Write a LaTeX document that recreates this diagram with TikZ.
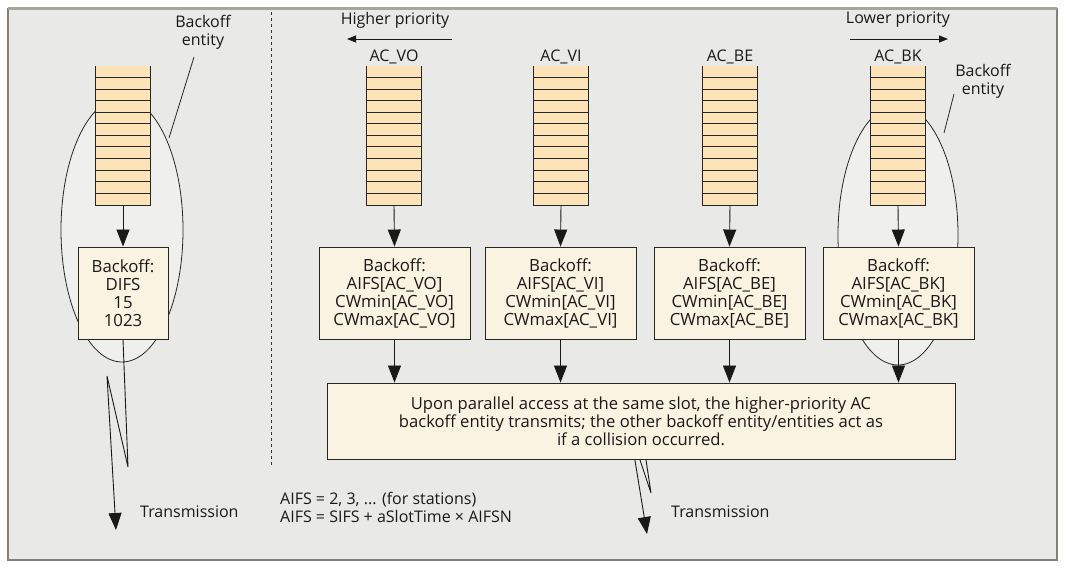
\documentclass[tikz,border=0pt]{standalone}
\usepackage{fontspec}
\setmainfont{Open Sans}
\usetikzlibrary{arrows.meta,shapes.geometric}
\definecolor{bg}{HTML}{E9EAE7}
\definecolor{framec}{HTML}{857F78}
\definecolor{topc}{HTML}{A8A49E}
\definecolor{queuefill}{HTML}{FCE3B8}
\definecolor{boxfill}{HTML}{FBF3E1}
\definecolor{ellfill}{HTML}{EFF0ED}
\newcommand\drawqueue[2]{%
  \node[queue] (#1) at (#2,135.5) {};
  \draw[qline] (#1.north west) -- (#1.south west) -- (#1.south east) -- (#1.north east);
  \foreach \k in {1,...,11}
    \draw[qline] ([yshift=-\k*11.583pt]#1.north west) -- ([yshift=-\k*11.583pt]#1.north east);
}
\begin{document}
\begin{tikzpicture}[x=1pt,y=-1pt,
  every node/.style={font=\fontsize{16}{18}\selectfont, inner sep=0pt, text=black!90},
  queue/.style={fill=queuefill, minimum width=54pt, minimum height=139pt},
  qline/.style={line width=0.9pt, black!85},
  bobox/.style={draw=black!85, fill=boxfill, minimum width=151pt, minimum height=92pt, align=center, line width=0.9pt, font=\fontsize{16.8}{18}\selectfont},
  entity/.style={ellipse, draw=black!85, fill=ellfill, line width=0.8pt, inner sep=0pt},
  conn/.style={-{Triangle[length=17pt,width=13pt]}, line width=0.9pt, black!90},
  prio/.style={-{Triangle[length=9pt,width=7pt]}, line width=0.9pt, black!90},
  thin/.style={line width=0.8pt, black!85},
]
\useasboundingbox (0,0) rectangle (1066,569);
\fill[white] (0,0) rectangle (1066,569);
\draw[fill=bg, draw=framec, line width=1.2pt] (8,9) rectangle (1057,560);
\draw[topc, line width=3pt] (8,9) -- (1057,9);

% divider
\draw[black!80, line width=0.9pt, dash pattern=on 3pt off 3pt] (271,12) -- (271,465);

% ---------- left (legacy) station ----------
\node[entity, minimum width=122pt, minimum height=264pt] (eleft) at (122,230) {};
\drawqueue{qleft}{123}
\node[bobox, minimum width=90pt] (bleft) at (123,293) {Backoff:\\DIFS\\15\\1023};
\draw[conn] (qleft.south) -- (bleft.north);
\node[align=center] (entl) at (203,32) {Backoff\\entity};
\coordinate (ll1) at (169,138);
\coordinate (ll2) at (194,57);
\draw[thin] (ll1) -- (ll2);
\coordinate (zl1) at (128,467);
\coordinate (zl2) at (107,376);
\coordinate (tl) at (116,530);
\draw[conn] (bleft.south) -- (zl1) -- (zl2) -- (tl);
\node[anchor=west] (trl) at (140,512) {Transmission};

% ---------- right (EDCA) station ----------
\node (hp) at (395,20) {Higher priority};
\coordinate (hp1) at (452,39);
\coordinate (hp2) at (347,39);
\draw[prio] (hp1) -- (hp2);
\node (lp) at (898,20) {Lower priority};
\coordinate (lp1) at (850,39);
\coordinate (lp2) at (948,39);
\draw[prio] (lp1) -- (lp2);

\node[entity, minimum width=120pt, minimum height=260pt] (eright) at (898,235) {};

\drawqueue{qvo}{394}
\drawqueue{qvi}{561}
\drawqueue{qbe}{730}
\drawqueue{qbk}{898}

\node (lvo) at (394,57) {AC\_VO};
\node (lvi) at (561,57) {AC\_VI};
\node (lbe) at (730,57) {AC\_BE};
\node (lbk) at (898,57) {AC\_BK};

\node[bobox] (bvo) at (394.5,293) {Backoff:\\AIFS[AC\_VO]\\CWmin[AC\_VO]\\CWmax[AC\_VO]};
\node[bobox] (bvi) at (560.5,293) {Backoff:\\AIFS[AC\_VI]\\CWmin[AC\_VI]\\CWmax[AC\_VI]};
\node[bobox] (bbe) at (729.5,293) {Backoff:\\AIFS[AC\_BE]\\CWmin[AC\_BE]\\CWmax[AC\_BE]};
\node[bobox] (bbk) at (898.5,293) {Backoff:\\AIFS[AC\_BK]\\CWmin[AC\_BK]\\CWmax[AC\_BK]};

\draw[conn] (qvo.south) -- (bvo.north);
\draw[conn] (qvi.south) -- (bvi.north);
\draw[conn] (qbe.south) -- (bbe.north);
\draw[conn] (qbk.south) -- (bbk.north);

\node[align=center] (entr) at (983,81) {Backoff\\entity};
\coordinate (lr1) at (944,133);
\coordinate (lr2) at (954,94);
\draw[thin] (lr1) -- (lr2);

% lightning under the big box (drawn first, box covers its top)
\coordinate (zr0) at (643,440);
\coordinate (zr1) at (651,493);
\coordinate (zr2) at (630,430);
\coordinate (tr) at (647,534);
\draw[conn] (zr0) -- (zr1) -- (zr2) -- (tr);

\node[bobox, minimum width=628pt, minimum height=76pt, font=\fontsize{16.6}{18}\selectfont] (big) at (641,421)
  {Upon parallel access at the same slot, the higher-priority AC\\backoff entity transmits; the other backoff entity/entities act as\\if a collision occurred.};

\draw[conn] (bvo.south) -- (bvo.south |- big.north);
\draw[conn] (bvi.south) -- (bvi.south |- big.north);
\draw[conn] (bbe.south) -- (bbe.south |- big.north);
\draw[conn] (bbk.south) -- (bbk.south |- big.north);

\node[anchor=west] (trr) at (671,512) {Transmission};

\node[anchor=west, align=left] (aifs) at (280,507) {AIFS = 2, 3, ... (for stations)\\AIFS = SIFS + aSlotTime × AIFSN};
\end{tikzpicture}
\end{document}
